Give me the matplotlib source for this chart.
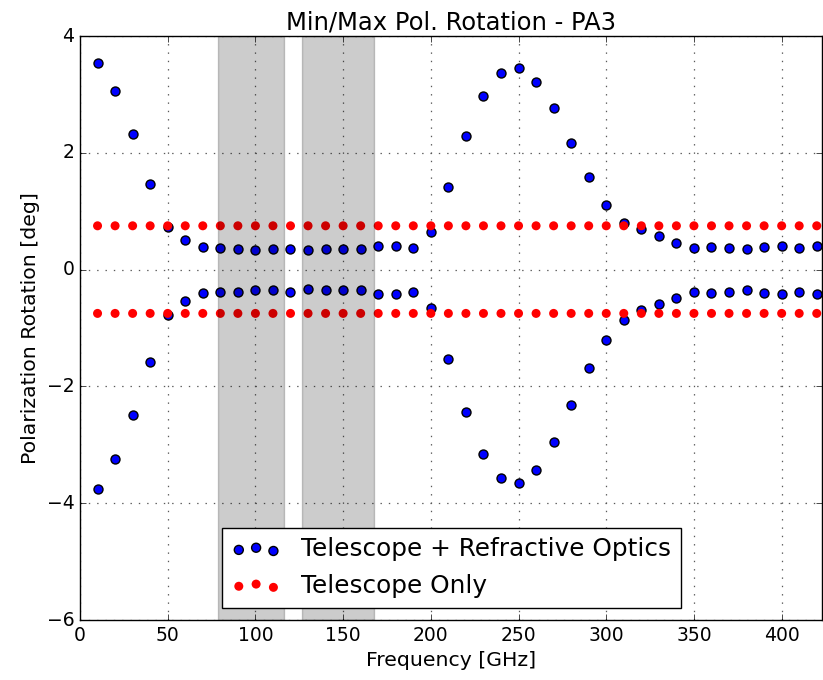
import matplotlib
matplotlib.use('Agg')
import matplotlib.pyplot as plt
import numpy as np

freqs = list(range(10, 430, 10))

rot_max = [3.54, 3.06, 2.33, 1.47, 0.73, 0.50, 0.39, 0.37, 0.35, 0.33,
           0.35, 0.35, 0.33, 0.35, 0.35, 0.35, 0.41, 0.41, 0.37, 0.64,
           1.41, 2.29, 2.97, 3.37, 3.45, 3.22, 2.77, 2.16, 1.58, 1.10,
           0.80, 0.69, 0.58, 0.46, 0.37, 0.39, 0.37, 0.35, 0.39, 0.41,
           0.37, 0.41]
rot_min = [-3.76, -3.24, -2.49, -1.59, -0.77, -0.53, -0.40, -0.38, -0.38, -0.355,
           -0.355, -0.38, -0.34, -0.355, -0.355, -0.355, -0.42, -0.42, -0.38, -0.65,
           -1.53, -2.44, -3.15, -3.57, -3.65, -3.43, -2.95, -2.32, -1.69, -1.20,
           -0.86, -0.69, -0.59, -0.48, -0.38, -0.40, -0.38, -0.355, -0.40, -0.42,
           -0.38, -0.42]
tel_max = [0.75] * len(freqs)
tel_min = [-0.75] * len(freqs)

bands = [(78.8, 116.3), (126.6, 167.6)]

plt.style.use('classic')
plt.rcParams['font.family'] = ['DejaVu Sans']

fig = plt.figure(figsize=(8.23, 6.8), dpi=100, facecolor='white')
ax = fig.add_axes([80 / 823, 60 / 680, 742 / 823, 584 / 680])

ax.scatter(freqs, rot_max, s=42, c='b', edgecolors='k', linewidths=1.0,
           label='Telescope + Refractive Optics', zorder=3)
ax.scatter(freqs, rot_min, s=42, c='b', edgecolors='k', linewidths=1.0, zorder=3)
ax.scatter(freqs, tel_max, s=42, c='r', edgecolors='none',
           label='Telescope Only', zorder=4)
ax.scatter(freqs, tel_min, s=42, c='r', edgecolors='none', zorder=4)

for lo, hi in bands:
    ax.axvspan(lo, hi, color='k', alpha=0.2, zorder=5)

ax.set_xlim(0, 423)
ax.set_ylim(-6, 4)
ax.set_xticks(np.arange(0, 401, 50))
ax.set_yticks(np.arange(-6, 5, 2))
ax.tick_params(labelsize=13.5)
ax.grid(True, linestyle=(0, (1, 5)), color='0.35', linewidth=0.9)
ax.set_axisbelow(True)

ax.set_xlabel('Frequency [GHz]', fontsize=14.7)
ax.set_ylabel('Polarization Rotation [deg]', fontsize=14.7)
ax.set_title('Min/Max Pol. Rotation - PA3', fontsize=17.5)

leg = ax.legend(loc='lower center', scatterpoints=3, fontsize=17.8,
                framealpha=1.0, borderaxespad=0.5)
leg.set_zorder(10)

fig.savefig('out.png', dpi=100, facecolor='white')
